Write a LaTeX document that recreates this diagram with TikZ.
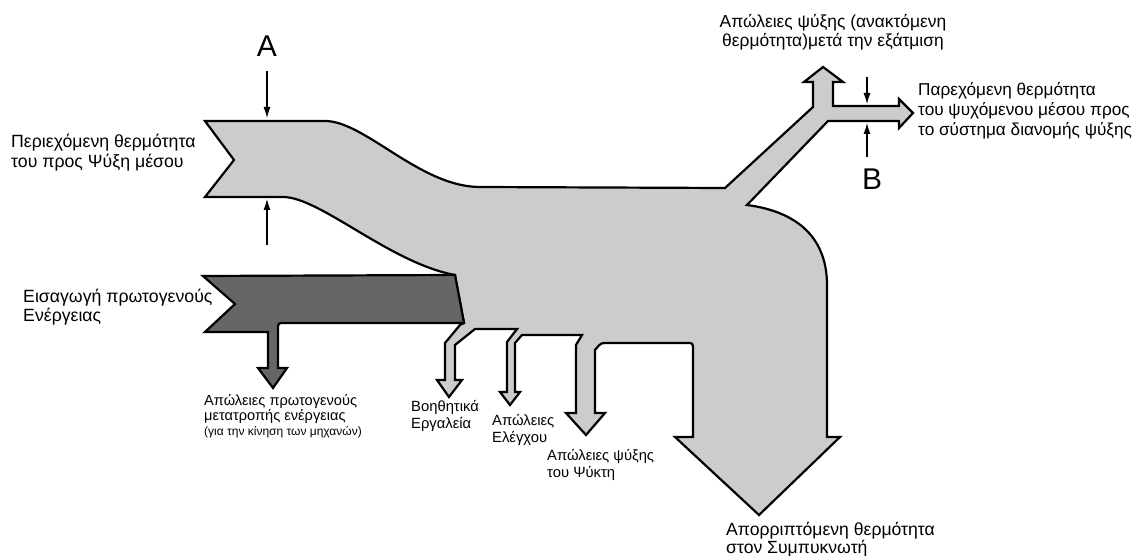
\documentclass[tikz,border=0pt]{standalone}
\usepackage{fontspec}
\setmainfont{Liberation Sans}
\usetikzlibrary{arrows.meta}
\definecolor{flowlight}{gray}{0.8}
\definecolor{flowdark}{gray}{0.4}
\begin{document}
\begin{tikzpicture}[x=1pt, y=-1pt,
    flow/.style={draw=black, line width=2.2pt},
    dimarrow/.style={line width=1.2pt, -{Latex[length=11pt, width=7pt]}},
    lbl/.style={inner sep=0pt, align=left, anchor=base west, font=\fontsize{17.7}{20}\selectfont},
    small/.style={lbl, font=\fontsize{14.8}{16.5}\selectfont},
    letter/.style={inner sep=0pt, font=\fontsize{30}{30}\selectfont}]
  \useasboundingbox (0,0) rectangle (1136,556);

  % Main flow (heat of the cooled medium)
  \draw[flow, fill=flowlight] (205,121) -- (325,121)
    .. controls (365,121) and (420,187) .. (480,187)
    -- (725,188) -- (813,107) -- (813,82) -- (804,82) -- (823,67) -- (843,82) -- (833,82)
    -- (833,106) -- (899,106) -- (899,99) -- (913,113) -- (899,128) -- (899,121)
    -- (828,121) -- (747,205)
    .. controls (800,212) and (827,240) .. (827,285)
    -- (827,437) -- (840,437) -- (759,515) -- (675,437) -- (693,437)
    [rounded corners=3pt] -- (693,343) -- (601,343) [sharp corners] -- (595,350)
    -- (595,413) -- (605,413) -- (586,435) -- (566,413) -- (576,413)
    -- (576,345) -- (582,335) -- (522,335) -- (515,343)
    -- (515,392) -- (520,392) -- (510,405) -- (500,392) -- (507,392)
    -- (507,342) -- (517,329) -- (475,329) -- (455,345)
    -- (455,380) -- (462,380) -- (449,397) -- (437,380) -- (445,380)
    -- (445,343) -- (460,325) -- (464,323) -- (455,275)
    .. controls (390,263) and (320,197) .. (283,197)
    -- (205,197) -- (234,160) -- cycle;

  % Primary energy input
  \draw[flow, fill=flowdark] (203,276) -- (455,275) -- (464,323)
    [rounded corners=3pt] -- (278,323) [sharp corners]
    -- (278,368) -- (287,368) -- (273,388) -- (258,368) -- (268,368)
    -- (268,332) -- (205,332) -- (235,304) -- cycle;

  % Section A
  \node[letter] (labelA) at (267,46) {A};
  \coordinate (A1) at (267,71);
  \coordinate (A2) at (267,118);
  \coordinate (A3) at (267,245);
  \coordinate (A4) at (267,199);
  \draw[dimarrow] (A1) -- (A2);
  \draw[dimarrow] (A3) -- (A4);

  % Section B
  \node[letter] (labelB) at (872,179) {B};
  \coordinate (B1) at (867,77);
  \coordinate (B2) at (867,104);
  \coordinate (B3) at (867,157);
  \coordinate (B4) at (867,123);
  \draw[dimarrow] (B1) -- (B2);
  \draw[dimarrow] (B3) -- (B4);

  % Labels (anchored at the baseline of their last line)
  \node[lbl] (medium) at (11,168) {Περιεχόμενη θερμότητα\\του προς Ψύξη μέσου};
  \node[lbl] (primary) at (23,322) {Εισαγωγή πρωτογενούς\\Ενέργειας};
  \node[small, font=\fontsize{14.6}{15}\selectfont] (primaryloss) at (204,435) {Απώλειες πρωτογενούς\\μετατροπής ενέργειας\\{\fontsize{12}{15}\selectfont(για την κίνηση των μηχανών)}};
  \node[small] (aux) at (411,428) {Βοηθητικά\\Εργαλεία};
  \node[small] (control) at (492,442) {Απώλειες\\Ελέγχου};
  \node[small] (chiller) at (547,477) {Απώλειες ψύξης\\του Ψύκτη};
  \node[lbl, font=\fontsize{17.6}{17.5}\selectfont] (condenser) at (726,553) {Απορριπτόμενη θερμότητα\\στον Συμπυκνωτή};
  \node[lbl, align=center, anchor=base, font=\fontsize{17.4}{19}\selectfont] (recovered) at (833,47) {Απώλειες ψύξης (ανακτόμενη\\θερμότητα)μετά την εξάτμιση};
  \node[lbl, font=\fontsize{17.2}{20}\selectfont] (supplied) at (918,136) {Παρεχόμενη θερμότητα\\του ψυχόμενου μέσου προς\\το σύστημα διανομής ψύξης};
\end{tikzpicture}
\end{document}
